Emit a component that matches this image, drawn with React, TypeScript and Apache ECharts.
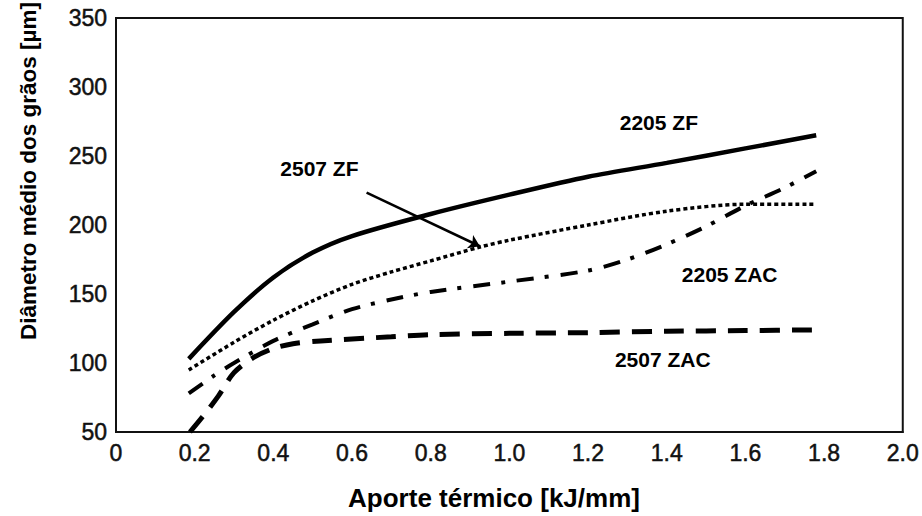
import React, { useEffect, useRef } from "react";
import * as echarts from "echarts";

// Heat input (kJ/mm) and mean grain diameter (µm)
const x2205ZF = [0.185, 0.3, 0.4, 0.5, 0.6, 0.8, 1.0, 1.2, 1.4, 1.6, 1.78];
const y2205ZF = [103, 137, 162, 180, 192, 208, 222, 235, 245, 255.5, 265];

const x2507ZF = [0.185, 0.3, 0.4, 0.5, 0.6, 0.7, 0.8, 0.925, 1.0, 1.2, 1.4, 1.6, 1.78];
const y2507ZF = [95, 115, 131, 145, 157, 166, 174, 184, 189, 200, 210, 215, 215];

const x2205ZAC = [0.185, 0.25, 0.3, 0.4, 0.5, 0.6, 0.7, 0.8, 1.0, 1.2, 1.3, 1.4, 1.5, 1.6, 1.7, 1.78];
const y2205ZAC = [78, 91, 100, 116, 128, 139, 146, 151.5, 159, 167, 175, 186, 199, 214, 227, 239];

const x2507ZAC = [0.188, 0.22, 0.26, 0.3, 0.35, 0.4, 0.45, 0.52, 0.7, 0.8, 1.0, 1.2, 1.4, 1.6, 1.78];
const y2507ZAC = [50, 61, 76, 93, 104, 110.5, 114, 116, 119, 120.5, 121.5, 122, 123, 123.5, 124];

// Curve annotations (data coordinates)
const labelNames = ["2205 ZF", "2507 ZF", "2205 ZAC", "2507 ZAC"];
const labelX = [1.38, 0.517, 1.56, 1.39];
const labelY = [274, 241, 164.4, 102.6];

// Arrow from "2507 ZF" label to its curve
const arrowFrom = [0.637, 223.4];
const arrowTo = [0.925, 184.6];

const xTitle = "Aporte térmico [kJ/mm]";
const yTitle = "Diâmetro médio dos grãos [µm]";

const FONT = '"Liberation Sans", Arial, Helvetica, sans-serif';

const pairs = (xs: number[], ys: number[]) => xs.map((x, i) => [x, ys[i]]);

export default function App() {
  const ref = useRef<HTMLDivElement>(null);

  useEffect(() => {
    if (!ref.current) return;
    const chart = echarts.init(ref.current, null, { renderer: "svg" });

    const tickLabel = {
      fontSize: 23,
      margin: 9,
      color: "#111",
      fontFamily: FONT,
      textBorderColor: "#111",
      textBorderWidth: 0.5,
    };

    const option: any = {
      animation: false,
      backgroundColor: "#ffffff",
      grid: {
        left: 116,
        right: 19,
        top: 18,
        bottom: 84,
        show: true,
        borderColor: "#111",
        borderWidth: 2,
        backgroundColor: "transparent",
      },
      xAxis: {
        type: "value",
        min: 0,
        max: 2,
        interval: 0.2,
        axisLine: { show: true, lineStyle: { color: "#111", width: 2 } },
        axisTick: { show: false },
        splitLine: { show: false },
        axisLabel: {
          ...tickLabel,
          formatter: (v: number) => (v === 0 ? "0" : v.toFixed(1)),
        },
      },
      yAxis: {
        type: "value",
        min: 50,
        max: 350,
        interval: 50,
        axisLine: { show: true, lineStyle: { color: "#111", width: 2 } },
        axisTick: { show: false },
        splitLine: { show: false },
        axisLabel: { ...tickLabel },
      },
      series: [
        {
          type: "line",
          name: "2205 ZF",
          data: pairs(x2205ZF, y2205ZF),
          smooth: 0.3,
          symbol: "none",
          lineStyle: { color: "#000", width: 4.5, type: "solid" },
          markPoint: {
            silent: true,
            symbol: "circle",
            symbolSize: 0,
            label: {
              show: true,
              position: "inside",
              formatter: "{b}",
              color: "#000",
              fontSize: 21,
              fontWeight: "bold",
              fontFamily: FONT,
            },
            data: labelNames.map((n, i) => ({ name: n, coord: [labelX[i], labelY[i]] })),
          },
        },
        {
          type: "line",
          name: "2507 ZF",
          data: pairs(x2507ZF, y2507ZF),
          smooth: 0.3,
          symbol: "none",
          lineStyle: { color: "#000", width: 3.5, type: [4, 3] },
          markLine: {
            silent: true,
            symbol: ["none", "arrow"],
            symbolSize: 11,
            label: { show: false },
            lineStyle: { color: "#000", width: 2.5, type: "solid" },
            data: [[{ coord: arrowFrom }, { coord: arrowTo }]],
          },
        },
        {
          type: "line",
          name: "2205 ZAC",
          data: pairs(x2205ZAC, y2205ZAC),
          smooth: 0.3,
          symbol: "none",
          lineStyle: { color: "#000", width: 4, type: [17, 11, 4, 12] },
        },
        {
          type: "line",
          name: "2507 ZAC",
          data: pairs(x2507ZAC, y2507ZAC),
          smooth: 0.3,
          symbol: "none",
          lineStyle: { color: "#000", width: 5, type: [20, 12] },
        },
      ],
      graphic: [
        {
          type: "text",
          x: 494,
          y: 498,
          silent: true,
          style: {
            text: xTitle,
            fill: "#000",
            font: `bold 26px ${FONT}`,
            textAlign: "center",
            textVerticalAlign: "middle",
          },
        },
        {
          type: "text",
          x: 28,
          y: 171,
          rotation: Math.PI / 2,
          silent: true,
          style: {
            text: yTitle,
            fill: "#000",
            font: `bold 22.5px ${FONT}`,
            textAlign: "center",
            textVerticalAlign: "middle",
          },
        },
      ],
    };

    chart.setOption(option);
    return () => chart.dispose();
  }, []);

  return (
    <div
      ref={ref}
      style={{ position: "fixed", left: 0, top: 0, width: 922, height: 516, background: "#fff" }}
    />
  );
}
